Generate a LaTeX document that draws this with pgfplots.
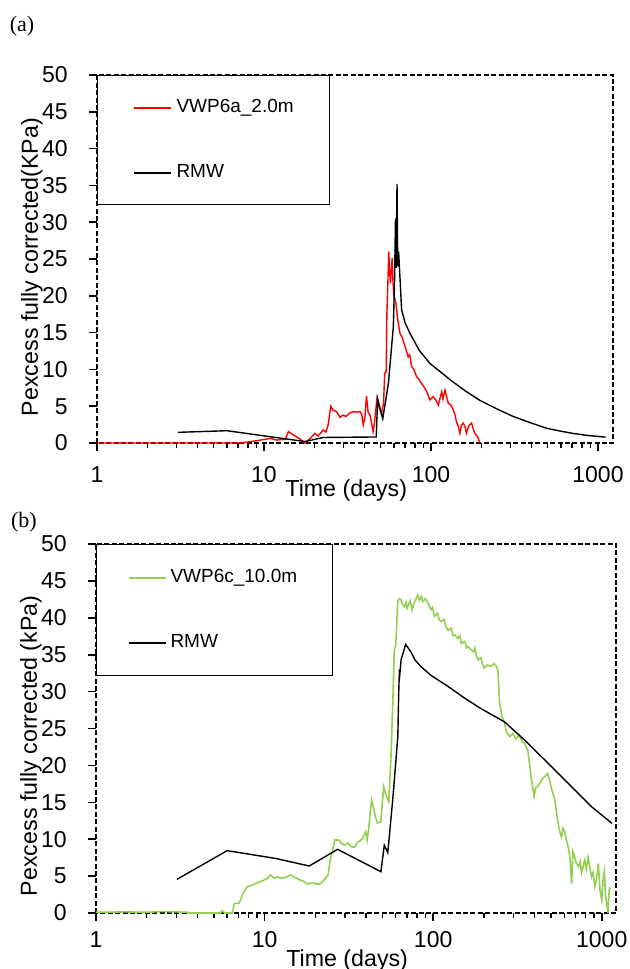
\documentclass[border=0pt]{standalone}
\usepackage{fontspec}
\setmainfont{Liberation Sans}
\newfontfamily\seriffont{Liberation Serif}
\usepackage{pgfplots}
\usepackage{pgfplotstable}
\pgfplotsset{compat=1.18}
\definecolor{vwpgreen}{RGB}{146,208,80}

% piezometer readings, time in days vs excess pore pressure (kPa)
\pgfplotstableread{
t P
1 0
7.35 0
7.5 0.05
9 0.3
10.9 0.63
11.9 0.4
13.4 0.5
14.0 1.54
15 1.1
16.3 0.6
17.6 0
18.9 0.63
20.2 1.3
21.1 0.95
22.6 1.77
23.5 1.5
24.2 2.45
25.1 5.0
25.8 4.5
27.2 4.26
28.5 3.49
29.8 3.8
31 3.6
32.7 4.1
34.2 4.26
36 4.2
37.6 4.26
38.5 3.9
39.3 2.45
40.2 3.5
41.1 6.4
42 4.2
43.1 3.8
44 2.8
45.0 1.54
46 3.0
47.5 6.07
48.5 5.2
49.5 4.5
50.5 4.0
52 5.4
52.8 9.47
53.9 9.7
54.4 17.2
55.2 22
55.9 26.0
56.5 23.4
57.2 21.7
58.5 25.1
59.2 22
59.8 20.3
61.6 19.0
63.5 16.5
65.2 14.9
67 14.4
70.0 13.1
73.0 11.7
74.5 12.0
76.6 10.4
79 10.0
82.0 9.0
85 8.6
87.7 8.1
91 7.6
94.3 7.0
98.6 5.84
103 6.3
107 5.84
110.5 5.16
113 6.0
115.9 6.97
118 6.0
121.2 7.2
124 6.3
127 5.39
131 5.2
136 4.48
139 3.9
142 2.9
146 2.2
149 1.32
152 2.4
156 2.7
160 2.2
163 1.32
168 2.3
175 2.7
179 1.9
183 1.32
188 1.0
192 0.63
196 0
}\vwpa

\pgfplotstableread{
t P
3.05 1.45
6.0 1.67
17.6 0.2
22.6 0.75
47.0 0.82
47.9 6.0
51.4 3.3
55.6 8.1
59.5 15.8
60.5 22.0
61.3 30.5
61.8 23.8
62.6 35.2
63.2 24.0
64.0 26.0
66.7 18.1
70.0 16.3
74.9 14.9
85.0 12.6
98.6 10.8
115 9.6
130 8.6
160 7.1
196 5.8
250 4.6
311 3.6
400 2.7
493 2.0
600 1.6
711 1.3
850 1.05
1050 0.85
1110 0.8
}\rmwa

\pgfplotstableread{
t P
1 0.1
1.5 0.15
2 0.1
2.5 0.2
3 0.15
3.46 0.1
3.6 0
5.5 0
5.6 0.3
5.85 0
6.42 0
6.63 1.3
7.05 1.3
7.53 2.9
7.88 3.56
8.5 3.8
9.05 4.1
9.8 4.4
10.4 4.7
10.85 5.15
11.4 4.7
11.9 4.9
12.7 4.7
13.5 4.9
14.3 5.15
15.2 4.8
16.0 4.56
17.0 4.3
17.9 3.93
19.3 4.1
20.5 3.9
21.5 4.0
22.4 4.4
23.8 5.15
24.5 7.2
25.3 8.5
26.1 9.9
27.4 9.9
28.5 9.5
29.7 9.2
31.3 9.5
32.5 9.0
34.1 8.9
35.6 9.6
37 9.8
38.1 10.1
39.8 11.0
40.6 9.9
41.5 11.5
42.3 13.5
43.1 15.3
44.5 14.0
45.5 13.0
46.7 12.2
48.9 12.3
50.1 15.3
50.9 17.1
52.5 16.0
54.5 15.1
55.6 18.9
56.2 21.2
57.6 28.4
58.8 35.6
60.0 36.3
61.0 40
61.7 42.2
63 42.6
64.5 42.4
66 41.8
67.5 41.5
69 42.1
70 41.3
71.5 41.8
73 42.3
75 41.1
77 42.0
79 42.5
80.9 43.1
83 42.4
85 42.9
86.7 42.2
90 42.6
93 42.0
95 41.6
97 41.1
99 41.4
101.8 40.2
106 40.6
109 39.7
111.7 39.5
116 39.8
119 38.8
122.6 38.3
128 38.6
131 37.6
134.4 37.7
140 37.2
144 37.6
147 36.5
154 36.8
158 35.9
161.7 36.1
167 35.7
173.9 35.4
177 35.9
180 35.0
185 34.3
192 34.6
196 33.7
201 33.2
210 33.6
220 33.4
230 33.8
237 33.4
242 32.9
248 28.4
256 26.6
265 25.9
270 24.8
278 24.2
285 23.9
297 24.3
310 23.6
324 24.1
337 23.2
350 23.0
365 21.9
381 18.5
397 15.8
405 17.0
415 17.1
430 17.6
445 18.2
459 18.5
479 18.9
490 18.0
500 17.1
527 15.3
540 13.5
551 12.2
564 11.0
577 10.3
590 11.5
604 11.0
618 9.8
632 9.0
648 7.5
663 4.0
675 8.3
690 7.6
705 6.8
728 6.3
745 7.0
760 5.5
793 7.2
810 6.0
830 7.5
850 6.2
870 4.9
890 5.5
910 3.6
930 4.5
955 6.7
975 3.2
1000 1.76
1018 4.5
1036 5.6
1052 2.5
1070 1.3
1090 0
1100 2.0
1110 3.35
1125 3.2
}\vwpc

\pgfplotstableread{
t P
3.02 4.56
6.0 8.45
11.6 7.4
18.4 6.37
27.1 8.63
49.0 5.6
51.3 9.2
53.8 8.2
55.0 10.5
57.8 15.8
61.7 23.9
62.5 30
63.1 33.0
63.5 32.5
64.5 34.3
68.7 36.4
73.7 35.4
78 34.3
84.5 33.4
97.1 32.2
122.6 30.7
154 29.1
192 27.7
265 25.9
350 23.4
480 20.3
663 17.1
870 14.4
1150 12.15
}\rmwc

\begin{document}
\begin{tikzpicture}
\useasboundingbox (0,0) rectangle (315pt,-484.5pt);

\node[font=\seriffont\fontsize{11}{13}\selectfont] at (11pt,-13pt) {(a)};
\node[font=\seriffont\fontsize{11}{13}\selectfont] at (12pt,-261pt) {(b)};

% (a)
\begin{axis}[
  scale only axis,
  at={(48.5pt,-221.5pt)}, anchor=south west,
  width=258pt, height=184pt,
  xmode=log,
  xmin=1, xmax=1230,
  ymin=0, ymax=50,
  ytick={0,5,...,50},
  xtick={1,10,100,1000},
  xticklabels={1,10,100,1000},
  tick align=outside,
  xtick pos=bottom, ytick pos=left,
  major tick length=4pt, minor tick length=2.5pt,
  major tick style={black, solid, line width=0.8pt},
  minor tick style={black, solid, line width=0.7pt},
  axis line style={black, line width=0.8pt, dash pattern=on 2.5pt off 1.2pt},
  ticklabel style={font=\fontsize{11.5}{13}\selectfont},
  yticklabel style={anchor=east, inner sep=0pt, xshift=-10.5pt,
    /pgf/number format/assume math mode=true},
  xticklabel style={anchor=center, inner sep=0pt, yshift=-12pt},
  label style={font=\fontsize{11.6}{13}\selectfont},
  xlabel={Time (days)},
  xlabel style={at={(rel axis cs:0.483,0)}, anchor=center, yshift=-23.5pt},
  ylabel={Pexcess fully corrected(KPa)},
  ylabel style={at={(rel axis cs:-0.126,0.478)}, anchor=center},
  legend cell align=left,
  legend image code/.code={\draw[#1, line width=1pt] (0pt,0pt) -- (18.5pt,0pt);},
  legend style={at={(0,1)}, anchor=north west, draw=black, line width=0.5pt,
    fill=white, inner xsep=17.5pt, inner ysep=11.8pt, row sep=24pt,
    nodes={inner sep=0pt, text height=6.8pt, text depth=1.7pt,
      font=\fontsize{9.5}{11}\selectfont},
    /tikz/every odd column/.append style={column sep=2.5pt}},
]
\addplot[red, line width=0.7pt] table[x=t,y=P] {\vwpa};
\addlegendentry{\makebox[59pt][l]{VWP6a\_2.0m}}
\addplot[black, line width=0.7pt] table[x=t,y=P] {\rmwa};
\addlegendentry{\makebox[59pt][l]{RMW}}
\end{axis}

% (b)
\begin{axis}[
  scale only axis,
  at={(48pt,-456.5pt)}, anchor=south west,
  width=260pt, height=184.5pt,
  xmode=log,
  xmin=1, xmax=1215,
  ymin=0, ymax=50,
  ytick={0,5,...,50},
  xtick={1,10,100,1000},
  xticklabels={1,10,100,1000},
  tick align=outside,
  xtick pos=bottom, ytick pos=left,
  major tick length=4pt, minor tick length=2.5pt,
  major tick style={black, solid, line width=0.8pt},
  minor tick style={black, solid, line width=0.7pt},
  axis line style={black, line width=0.8pt, dash pattern=on 2.5pt off 1.2pt},
  ticklabel style={font=\fontsize{11.5}{13}\selectfont},
  yticklabel style={anchor=east, inner sep=0pt, xshift=-10.5pt,
    /pgf/number format/assume math mode=true},
  xticklabel style={anchor=center, inner sep=0pt, yshift=-9.5pt},
  label style={font=\fontsize{11.6}{13}\selectfont},
  xlabel={Time (days)},
  xlabel style={at={(rel axis cs:0.483,0)}, anchor=center, yshift=-23.5pt},
  ylabel={Pexcess fully corrected (kPa)},
  ylabel style={at={(rel axis cs:-0.125,0.453)}, anchor=center},
  legend cell align=left,
  legend image code/.code={\draw[#1, line width=1pt] (0pt,0pt) -- (18.5pt,0pt);},
  legend style={at={(0,1)}, anchor=north west, draw=black, line width=0.5pt,
    fill=white, inner xsep=15.5pt, inner ysep=12.3pt, row sep=24pt,
    nodes={inner sep=0pt, text height=6.8pt, text depth=1.7pt,
      font=\fontsize{9.5}{11}\selectfont},
    /tikz/every odd column/.append style={column sep=2pt}},
]
\addplot[vwpgreen, line width=0.8pt] table[x=t,y=P] {\vwpc};
\addlegendentry{\makebox[65.5pt][l]{VWP6c\_10.0m}}
\addplot[black, line width=0.7pt] table[x=t,y=P] {\rmwc};
\addlegendentry{\makebox[65.5pt][l]{RMW}}
\end{axis}
\end{tikzpicture}
\end{document}
